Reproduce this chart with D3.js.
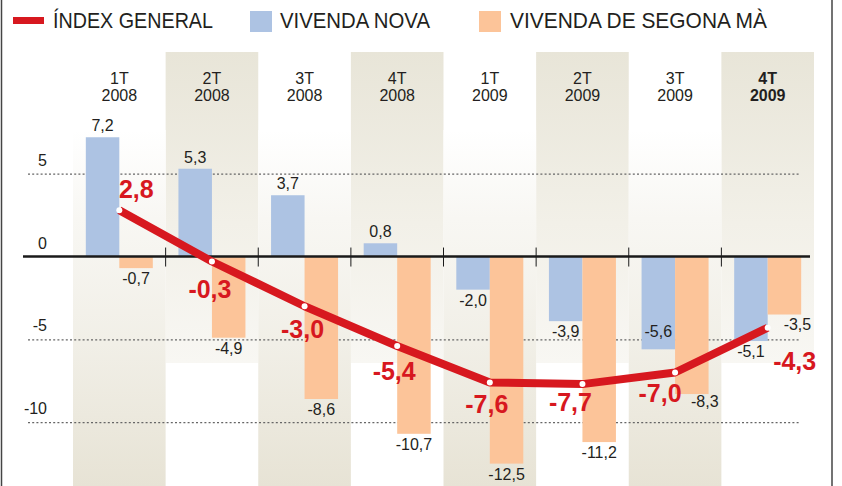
<!DOCTYPE html>
<html>
<head>
<meta charset="utf-8">
<script src="https://cdn.jsdelivr.net/npm/d3@7"></script>
<style>
  html, body { margin: 0; padding: 0; background: #fff; }
  svg { display: block; }
  text { font-family: "Liberation Sans", Arial, sans-serif; fill: #231f20; }
</style>
</head>
<body>
<div id="chart"></div>
<script>
// dades
const trimestres = ['1T', '2T', '3T', '4T', '1T', '2T', '3T', '4T'];
const anys = ['2008', '2008', '2008', '2008', '2009', '2009', '2009', '2009'];
const vivendaNova = [7.2, 5.3, 3.7, 0.8, -2.0, -3.9, -5.6, -5.1];
const vivendaSegona = [-0.7, -4.9, -8.6, -10.7, -12.5, -11.2, -8.3, -3.5];
const indexGeneral = [2.8, -0.3, -3.0, -5.4, -7.6, -7.7, -7.0, -4.3];
const yTicks = [5, 0, -5, -10];

const categories = trimestres.map((t, i) => t + ' ' + anys[i]);

const colors = { index: '#d7181f', nova: '#adc3e3', segona: '#fcc499' };
const fmt = v => d3.format('.1f')(v).replace('.', ',').replace('−', '-');

const width = 842, height = 486;

const svg = d3.select('#chart').append('svg')
  .attr('width', width)
  .attr('height', height);

const x = d3.scaleBand().domain(categories).range([73, 814]).paddingInner(0);
const bw = x.bandwidth();
const xs = d3.scaleBand().domain(['nova', 'segona']).range([bw / 2 - 33.5, bw / 2 + 33.5]);
const y = d3.scaleLinear().domain([-10, 5]).range([422.2, 173.7]);

// gradients de fons
const defs = svg.append('defs');
const gTop = defs.append('linearGradient').attr('id', 'gTop').attr('x1', 0).attr('x2', 0).attr('y1', 0).attr('y2', 1);
gTop.append('stop').attr('offset', '0%').attr('stop-color', '#e8e5d8');
gTop.append('stop').attr('offset', '55%').attr('stop-color', '#f2f0e8');
gTop.append('stop').attr('offset', '100%').attr('stop-color', '#f8f7f3');
const gBot = defs.append('linearGradient').attr('id', 'gBot').attr('x1', 0).attr('x2', 0).attr('y1', 0).attr('y2', 1);
gBot.append('stop').attr('offset', '0%').attr('stop-color', '#ffffff');
gBot.append('stop').attr('offset', '25%').attr('stop-color', '#f8f7f3');
gBot.append('stop').attr('offset', '60%').attr('stop-color', '#f1efe7');
gBot.append('stop').attr('offset', '100%').attr('stop-color', '#e7e3d5');

svg.selectAll('rect.bgTop')
  .data(categories.filter((d, i) => i % 2 === 1))
  .enter().append('rect')
  .attr('x', d => x(d)).attr('width', bw)
  .attr('y', 52).attr('height', 363 - 52)
  .attr('fill', 'url(#gTop)');

svg.selectAll('rect.bgBot')
  .data(categories.filter((d, i) => i % 2 === 0))
  .enter().append('rect')
  .attr('x', d => x(d)).attr('width', bw)
  .attr('y', 130).attr('height', height - 130)
  .attr('fill', 'url(#gBot)');

// vores del requadre
svg.append('line').attr('x1', 1.5).attr('x2', 1.5).attr('y1', 0).attr('y2', height)
  .attr('stroke', '#444').attr('stroke-width', 1.5);
svg.append('line').attr('x1', 832).attr('x2', 832).attr('y1', 0).attr('y2', height)
  .attr('stroke', '#444').attr('stroke-width', 1.5);

// línies de graella
svg.selectAll('line.grid')
  .data(yTicks.filter(d => d !== 0))
  .enter().append('line')
  .attr('x1', 28).attr('x2', 799)
  .attr('y1', d => y(d) + 0.5).attr('y2', d => y(d) + 0.5)
  .attr('stroke', '#666').attr('stroke-width', 1.2)
  .attr('stroke-dasharray', '2,2.2');

svg.selectAll('text.ytick')
  .data(yTicks)
  .enter().append('text')
  .attr('x', 47).attr('y', d => y(d) - 8)
  .attr('text-anchor', 'end')
  .attr('font-size', 16)
  .text(d => d);

// capçaleres
const head = svg.selectAll('g.head')
  .data(categories)
  .enter().append('g')
  .attr('transform', d => `translate(${x(d) + bw / 2},0)`);
head.append('text').attr('y', 84).attr('text-anchor', 'middle').attr('font-size', 16)
  .attr('font-weight', (d, i) => i === 7 ? 'bold' : 'normal')
  .text((d, i) => trimestres[i]);
head.append('text').attr('y', 101).attr('text-anchor', 'middle').attr('font-size', 16)
  .attr('font-weight', (d, i) => i === 7 ? 'bold' : 'normal')
  .text((d, i) => anys[i]);

// barres
svg.selectAll('rect.nova')
  .data(vivendaNova)
  .enter().append('rect')
  .attr('x', (d, i) => x(categories[i]) + xs('nova'))
  .attr('width', xs.bandwidth())
  .attr('y', d => y(Math.max(0, d)))
  .attr('height', d => Math.abs(y(d) - y(0)))
  .attr('fill', colors.nova);

svg.selectAll('rect.segona')
  .data(vivendaSegona)
  .enter().append('rect')
  .attr('x', (d, i) => x(categories[i]) + xs('segona'))
  .attr('width', xs.bandwidth())
  .attr('y', d => y(Math.max(0, d)))
  .attr('height', d => Math.abs(y(d) - y(0)))
  .attr('fill', colors.segona);

// línia del zero i marques
svg.append('line').attr('x1', 23).attr('x2', 810)
  .attr('y1', y(0)).attr('y2', y(0))
  .attr('stroke', '#1a1a1a').attr('stroke-width', 2.5);
svg.selectAll('line.tick')
  .data(categories.slice(1))
  .enter().append('line')
  .attr('x1', d => x(d)).attr('x2', d => x(d))
  .attr('y1', y(0) - 9).attr('y2', y(0) + 10)
  .attr('stroke', '#1a1a1a').attr('stroke-width', 1);

// etiquetes de les barres
const novaNudgeY = [0, 0, 0, 0, 0, 0, -28, 0];
const segonaNudge = [0, 0, 0, 0, 0, 0, 13, 13];
const segonaNudgeY = [0, 0, 0, 0, 0, 0, -3, -1];

svg.selectAll('text.lnova')
  .data(vivendaNova)
  .enter().append('text')
  .attr('x', (d, i) => x(categories[i]) + xs('nova') + xs.bandwidth() / 2)
  .attr('y', (d, i) => (d >= 0 ? y(d) - 6 : y(d) + 16) + novaNudgeY[i])
  .attr('text-anchor', 'middle')
  .attr('font-size', 16)
  .text(d => fmt(d));

svg.selectAll('text.lsegona')
  .data(vivendaSegona)
  .enter().append('text')
  .attr('x', (d, i) => x(categories[i]) + xs('segona') + xs.bandwidth() / 2 + segonaNudge[i])
  .attr('y', (d, i) => y(d) + 16 + segonaNudgeY[i])
  .attr('text-anchor', 'middle')
  .attr('font-size', 16)
  .text(d => fmt(d));

// índex general
const line = d3.line()
  .x((d, i) => x(categories[i]) + bw / 2)
  .y(d => y(d));

svg.append('path')
  .datum(indexGeneral)
  .attr('d', line)
  .attr('fill', 'none')
  .attr('stroke', colors.index)
  .attr('stroke-width', 8)
  .attr('stroke-linejoin', 'round');

svg.selectAll('circle.pt')
  .data(indexGeneral)
  .enter().append('circle')
  .attr('cx', (d, i) => x(categories[i]) + bw / 2)
  .attr('cy', d => y(d))
  .attr('r', 3)
  .attr('fill', '#fff');

const idxDx = [17, -2, -2, -3, -3, -12, -15, 27];
const idxDy = [-12, 36, 32, 34, 31, 27, 29, 42];

svg.selectAll('text.lindex')
  .data(indexGeneral)
  .enter().append('text')
  .attr('x', (d, i) => x(categories[i]) + bw / 2 + idxDx[i])
  .attr('y', (d, i) => y(d) + idxDy[i])
  .attr('text-anchor', 'middle')
  .attr('font-size', 25)
  .attr('font-weight', 'bold')
  .style('fill', colors.index)
  .text(d => fmt(d));

// llegenda
const legend = svg.append('g');
legend.append('rect').attr('x', 13).attr('y', 17).attr('width', 31).attr('height', 7).attr('fill', colors.index);
legend.append('text').attr('x', 53).attr('y', 28).attr('font-size', 22)
  .attr('textLength', 160).attr('lengthAdjust', 'spacingAndGlyphs').text('ÍNDEX GENERAL');
legend.append('rect').attr('x', 250).attr('y', 11).attr('width', 22).attr('height', 21).attr('fill', colors.nova);
legend.append('text').attr('x', 280).attr('y', 28).attr('font-size', 22)
  .attr('textLength', 150).attr('lengthAdjust', 'spacingAndGlyphs').text('VIVENDA NOVA');
legend.append('rect').attr('x', 479).attr('y', 11).attr('width', 22).attr('height', 21).attr('fill', colors.segona);
legend.append('text').attr('x', 510).attr('y', 28).attr('font-size', 22)
  .attr('textLength', 257).attr('lengthAdjust', 'spacingAndGlyphs').text('VIVENDA DE SEGONA MÀ');
</script>
</body>
</html>
